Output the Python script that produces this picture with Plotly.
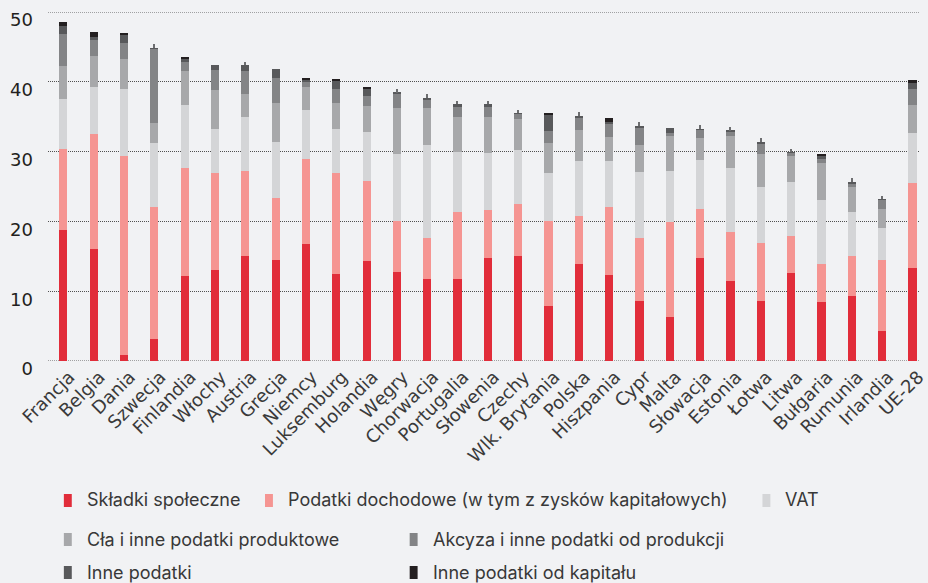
import plotly.graph_objects as go

# Kraje UE uporządkowane według łącznych wpływów podatkowych (% PKB)
kraje = ["Francja", "Belgia", "Dania", "Szwecja", "Finlandia", "Włochy", "Austria",
         "Grecja", "Niemcy", "Luksemburg", "Holandia", "Węgry", "Chorwacja",
         "Portugalia", "Słowenia", "Czechy", "Wlk. Brytania", "Polska", "Hiszpania",
         "Cypr", "Malta", "Słowacja", "Estonia", "Łotwa", "Litwa", "Bułgaria",
         "Rumunia", "Irlandia", "UE-28"]

skladki = [18.8, 16.1, 0.9, 3.2, 12.2, 13.1, 15.1, 14.4, 16.7, 12.5, 14.3, 12.8, 11.8,
           11.7, 14.8, 15.1, 7.9, 13.9, 12.3, 8.6, 6.3, 14.8, 11.4, 8.6, 12.6, 8.4,
           9.3, 4.3, 13.3]
dochodowe = [11.6, 16.4, 28.5, 18.8, 15.4, 13.9, 12.1, 8.9, 12.3, 14.4, 11.5, 7.2, 5.8,
             9.7, 6.9, 7.4, 12.1, 6.9, 9.8, 9.0, 13.6, 7.0, 7.1, 8.3, 5.3, 5.5,
             5.7, 10.1, 12.2]
vat = [7.2, 6.8, 9.5, 9.3, 9.1, 6.3, 7.8, 8.1, 7.0, 6.3, 7.0, 9.6, 13.3,
       8.6, 8.1, 7.8, 6.9, 7.8, 6.5, 9.5, 7.3, 7.0, 9.2, 8.0, 7.8, 9.1,
       6.3, 4.6, 7.1]
cla = [4.6, 4.4, 4.4, 2.8, 4.9, 5.5, 3.2, 5.5, 3.2, 3.7, 3.8, 6.7, 5.3,
       5.0, 5.2, 4.4, 4.4, 4.5, 3.5, 3.9, 5.1, 3.1, 4.6, 4.8, 3.6, 5.3,
       3.6, 2.8, 4.1]
akcyza = [4.7, 2.3, 2.3, 10.6, 1.3, 2.9, 3.4, 3.7, 0.8, 2.1, 1.3, 2.0, 1.2,
          1.4, 1.4, 0.7, 1.7, 1.8, 1.9, 2.4, 0.4, 1.2, 0.6, 1.4, 0.5, 0.7,
          0.5, 1.3, 2.3]
inne = [1.1, 0.4, 1.2, 0.1, 0.4, 0.7, 0.8, 1.2, 0.4, 1.2, 1.2, 0.1, 0.3,
        0.4, 0.4, 0.1, 2.3, 0.2, 0.3, 0.3, 0.7, 0.1, 0.1, 0.3, 0.1, 0.3,
        0.3, 0.1, 0.9]
kapitalowe = [0.6, 0.8, 0.1, 0.0, 0.2, 0.0, 0.0, 0.0, 0.2, 0.1, 0.1, 0.0, 0.0,
              0.0, 0.0, 0.0, 0.2, 0.0, 0.5, 0.0, 0.0, 0.0, 0.0, 0.0, 0.0, 0.3,
              0.0, 0.0, 0.3]
# drobne pozycje rysowane jako cienka kreska na szczycie słupka
drobne = [0.0, 0.0, 0.0, 0.6, 0.0, 0.0, 0.5, 0.0, 0.0, 0.0, 0.0, 0.6, 0.6,
          0.5, 0.5, 0.5, 0.0, 0.6, 0.0, 0.5, 0.0, 0.6, 0.5, 0.5, 0.5, 0.0,
          0.5, 0.4, 0.0]

serie = [
    ("Składki społeczne", skladki, "#e12d3a"),
    ("Podatki dochodowe (w tym z zysków kapitałowych)", dochodowe, "#f59592"),
    ("VAT", vat, "#d4d5d7"),
    ("Cła i inne podatki produktowe", cla, "#a7a8aa"),
    ("Akcyza i inne podatki od produkcji", akcyza, "#838486"),
    ("Inne podatki", inne, "#58595b"),
    ("Inne podatki od kapitału", kapitalowe, "#231f20"),
]

y_ticks = [0, 10, 20, 30, 40, 50]

BG = "#f1f2f4"
GRID = "#505050"
fig = go.Figure()
for nazwa, wartosci, kolor in serie:
    fig.add_trace(go.Bar(x=kraje, y=wartosci, name=nazwa, marker_color=kolor,
                         marker_line_width=0, width=0.27, showlegend=False))
fig.add_trace(go.Bar(x=kraje, y=drobne, marker_color="#6d6e70", marker_line_width=0,
                     width=0.04, showlegend=False, hoverinfo="skip"))

fig.update_layout(
    barmode="stack",
    width=928, height=583,
    margin=dict(l=48, r=0, t=12, b=222),
    paper_bgcolor=BG, plot_bgcolor=BG,
    font=dict(family="DejaVu Sans", color="#2b2b2b"),
    bargap=0,
)
fig.update_xaxes(range=[-0.507, 28.25], tickangle=-45, showgrid=False,
                 tickfont=dict(family="DejaVu Sans", size=18, color="#3a3a3a"),
                 ticks="", showline=False, ticklabelshift=6, ticklabelstandoff=1)
fig.update_yaxes(range=[0, 50], tickvals=y_ticks, showgrid=True,
                 gridcolor=GRID, griddash="1px,1px", gridwidth=1,
                 zeroline=False, showline=False, ticks="",
                 tickfont=dict(family="DejaVu Sans", size=18, color="#231f20"),
                 ticklabelstandoff=14, ticklabelshift=8)

# linie siatki na krańcach zakresu osi
for yv in (y_ticks[0], y_ticks[-1]):
    fig.add_shape(type="line", xref="paper", yref="y", x0=0, x1=1, y0=yv, y1=yv,
                  line=dict(color=GRID, width=1, dash="1px,1px"), layer="below")

# Legenda w trzech wierszach
legenda = [
    (0, 64, 85, 500),
    (1, 267, 288, 500),
    (2, 769, 790, 500),
    (3, 64, 85, 539),
    (4, 413, 435, 539),
    (5, 64, 85, 572),
    (6, 413, 435, 572),
]
for idx, xm, xt, yc in legenda:
    nazwa, _, kolor = serie[idx]
    fig.add_shape(type="rect", xref="paper", yref="paper",
                  x0=(xm - 48) / 880, x1=(xm + 8 - 48) / 880,
                  y0=(583 - 222 - (yc + 7)) / 349, y1=(583 - 222 - (yc - 6)) / 349,
                  fillcolor=kolor, line_width=0)
    fig.add_annotation(xref="paper", yref="paper", x=(xt - 48) / 880,
                       y=(583 - 222 - yc) / 349, text=nazwa, showarrow=False,
                       xanchor="left", yanchor="middle",
                       font=dict(family="Inter", size=18, color="#383838"))

fig.write_html("out.html")
